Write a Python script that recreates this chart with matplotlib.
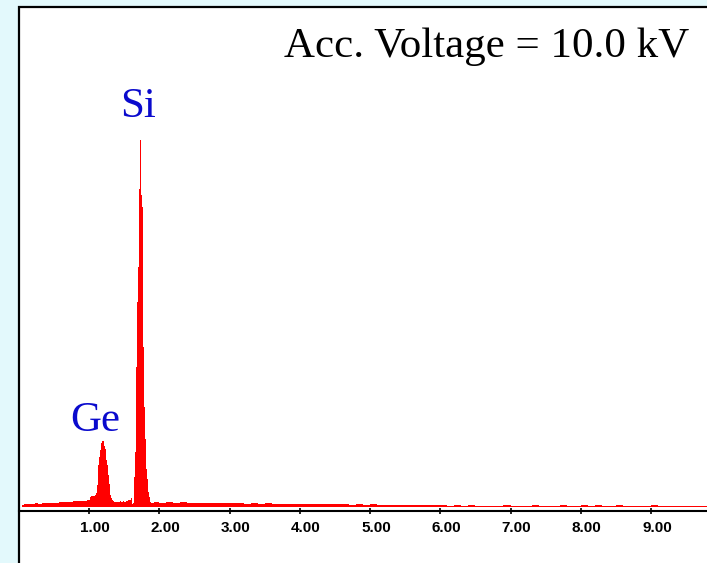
import numpy as np
import matplotlib
matplotlib.use("Agg")
import matplotlib.pyplot as plt
from matplotlib.patches import Rectangle
from matplotlib.transforms import ScaledTranslation
from matplotlib import font_manager

# EDS spectrum, counts per channel (energy in keV)
low_keV = [0.05, 0.10, 0.15, 0.20, 0.25, 0.30, 0.35, 0.40, 0.45, 0.50,
           0.55, 0.60, 0.65, 0.70, 0.75, 0.80, 0.85, 0.90, 0.95, 1.00]
low_counts = [20, 28, 32, 30, 36, 34, 40, 38, 42, 45,
              43, 50, 48, 55, 52, 58, 60, 57, 65, 68]

shoulder_keV = [1.02, 1.04, 1.06, 1.08]
shoulder_counts = [105, 110, 108, 112]

ge_keV = [1.10, 1.11, 1.12, 1.13, 1.14, 1.15, 1.16, 1.17, 1.18, 1.19, 1.20, 1.21,
          1.22, 1.23, 1.24, 1.25, 1.26, 1.27, 1.28, 1.29, 1.30, 1.31, 1.32, 1.33]
ge_counts = [120, 140, 220, 330, 420, 500, 570, 610, 640, 660, 690, 660,
             610, 580, 540, 470, 420, 380, 320, 230, 170, 120, 90, 70]

gap_keV = [1.35, 1.37, 1.39, 1.41, 1.43, 1.45, 1.47, 1.49, 1.51, 1.53, 1.55, 1.57, 1.59, 1.61]
gap_counts = [60, 52, 48, 55, 50, 56, 52, 58, 55, 60, 62, 66, 75, 90]

si_keV = [1.62, 1.63, 1.64, 1.65, 1.66, 1.67, 1.68, 1.69, 1.70, 1.71, 1.72, 1.73, 1.74, 1.75,
          1.76, 1.77, 1.78, 1.79, 1.80, 1.81, 1.82, 1.83, 1.84, 1.85, 1.86, 1.87, 1.88, 1.89]
si_counts = [30, 40, 120, 300, 550, 950, 1400, 2050, 2400, 2900, 3180, 3670, 3300, 3120,
             3000, 2000, 1600, 1000, 680, 500, 380, 280, 210, 150, 100, 70, 50, 40]

tail_keV = [1.95, 2.05, 2.15, 2.25, 2.35, 2.45, 2.55, 2.65, 2.75, 2.85,
            2.95, 3.05, 3.15, 3.25, 3.35, 3.45, 3.55, 3.65, 3.75, 3.85,
            3.95, 4.05, 4.15, 4.25, 4.35, 4.45, 4.55, 4.65, 4.75, 4.85,
            4.95, 5.05, 5.15, 5.25, 5.35, 5.45, 5.55, 5.65, 5.75, 5.85,
            5.95, 6.05, 6.15, 6.25, 6.35, 6.45, 6.55, 6.65, 6.75, 6.85,
            6.95, 7.05, 7.15, 7.25, 7.35, 7.45, 7.55, 7.65, 7.75, 7.85,
            7.95, 8.05, 8.15, 8.25, 8.35, 8.45, 8.55, 8.65, 8.75, 8.85,
            8.95, 9.05, 9.15, 9.25, 9.35, 9.45, 9.55, 9.65, 9.75, 9.85]
tail_counts = [50, 45, 48, 42, 46, 44, 40, 43, 41, 38,
               40, 36, 38, 35, 37, 33, 36, 32, 34, 31,
               30, 32, 28, 30, 27, 29, 26, 28, 25, 27,
               24, 26, 22, 25, 21, 23, 20, 22, 18, 20,
               17, 19, 15, 18, 14, 16, 13, 15, 12, 14,
               16, 12, 15, 13, 16, 12, 15, 14, 16, 13,
               15, 16, 14, 17, 13, 15, 16, 14, 12, 15,
               13, 16, 12, 14, 15, 11, 13, 14, 12, 13]

tick_vals = [1, 2, 3, 4, 5, 6, 7, 8, 9]
tick_labels = ["1.00", "2.00", "3.00", "4.00", "5.00", "6.00", "7.00", "8.00", "9.00"]

title_text = "Acc. Voltage = 10.0 kV"
peak_names = ["Si", "Ge"]

energy = np.concatenate([low_keV, shoulder_keV, ge_keV, gap_keV, si_keV, tail_keV])
counts = np.concatenate([low_counts, shoulder_counts, ge_counts, gap_counts, si_counts, tail_counts])

tick_font = font_manager.FontProperties(family="Liberation Sans", weight="bold", size=11)

W, H = 707, 563
fig = plt.figure(figsize=(W / 100, H / 100), dpi=100, facecolor="#e3f9fc")

# white panel with a black frame
panel = Rectangle((18.5 / W, -0.1), 1.2, (1 - 7 / H) + 0.1, transform=fig.transFigure,
                  facecolor="white", edgecolor="black", lw=1.6, zorder=-5)
fig.patches.append(panel)

ax = fig.add_axes([18.75 / W, (H - 511) / H, (W - 18.75) / W, (511 - 7) / H])
ax.set_zorder(2)
ax.set_facecolor("none")
ax.fill_between(energy, counts, 0, step="mid", color="#ff0000", lw=0)
ax.set_xlim(0, (W - 18.75) / 70.25)
ax.set_ylim(-40, -40 + 504 * 10)

for s in ("left", "top", "right"):
    ax.spines[s].set_visible(False)
ax.spines["bottom"].set_linewidth(1.5)
ax.set_yticks([])
ax.set_xticks(tick_vals)
ax.set_xticklabels(tick_labels, fontproperties=tick_font)
ax.tick_params(axis="x", direction="inout", length=5, width=1.2, pad=5)
offset = ScaledTranslation(6 / 100, 0, fig.dpi_scale_trans)
for lab in ax.get_xticklabels():
    lab.set_transform(lab.get_transform() + offset)

fig.text(689 / W, 1 - 57 / H, title_text, ha="right", va="baseline",
         fontsize=31, family="Liberation Serif", color="black")
blue = "#0a0acd"
fig.text(120 / W, 1 - 117 / H, peak_names[0], ha="left", va="baseline",
         fontsize=31, family="Liberation Serif", color=blue)
fig.text(70 / W, 1 - 431 / H, peak_names[1], ha="left", va="baseline",
         fontsize=31, family="Liberation Serif", color=blue)

fig.savefig("out.png", dpi=100, facecolor=fig.get_facecolor())
